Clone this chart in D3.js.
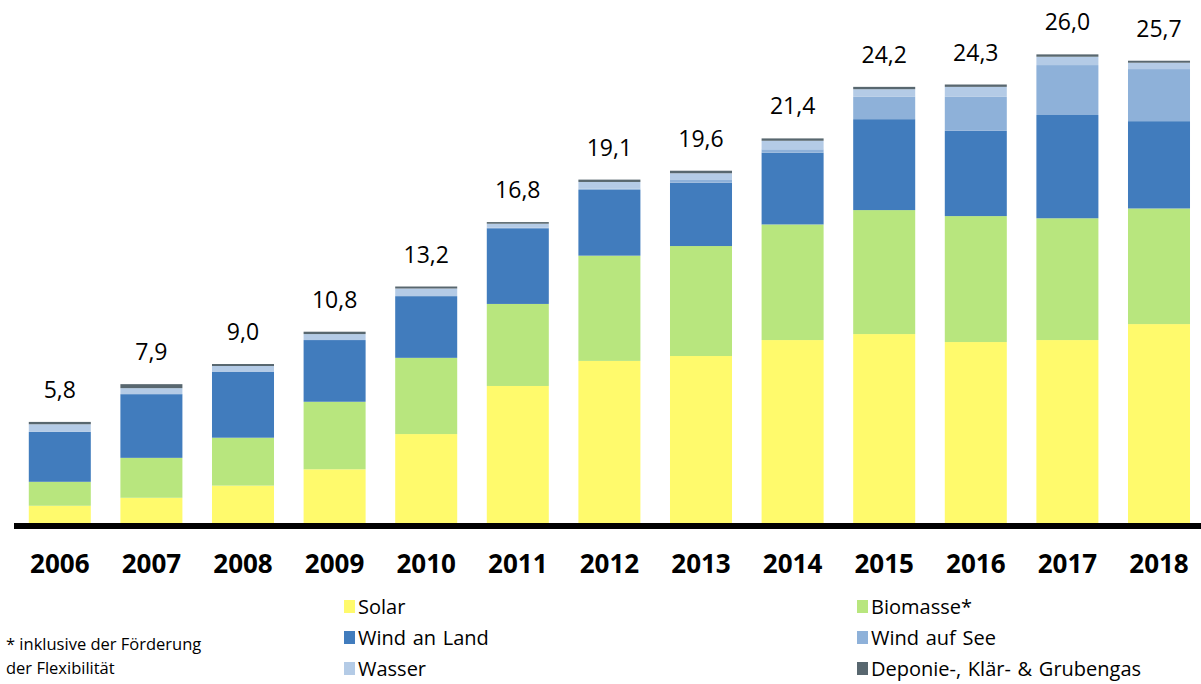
<!DOCTYPE html>
<html>
<head>
<meta charset="utf-8">
<script src="https://cdn.jsdelivr.net/npm/d3@7"></script>
<style>
  html, body { margin: 0; padding: 0; background: #fff; }
  svg { display: block; font-family: "Open Sans", "Noto Sans", sans-serif; }
</style>
</head>
<body>
<div id="chart"></div>
<script>
// data (Mrd. Euro)
const years = ['2006', '2007', '2008', '2009', '2010', '2011', '2012', '2013', '2014', '2015', '2016', '2017', '2018'];
const solar    = [1.17, 1.61, 2.28, 3.18, 5.12, 7.77, 9.15, 9.42, 10.30, 10.63, 10.19, 10.30, 11.18];
const biomasse = [1.32, 2.20, 2.64, 3.72, 4.20, 4.52, 5.80, 6.06, 6.37, 6.83, 6.94, 6.71, 6.37];
const windLand = [2.75, 3.51, 3.62, 3.40, 3.40, 4.17, 3.62, 3.49, 3.95, 5.01, 4.70, 5.69, 4.81];
const windSee  = [0, 0, 0, 0, 0, 0.03, 0.08, 0.15, 0.19, 1.23, 1.87, 2.75, 2.87];
const wasser   = [0.42, 0.33, 0.33, 0.33, 0.42, 0.22, 0.36, 0.37, 0.47, 0.42, 0.55, 0.46, 0.35];
const deponie  = [0.13, 0.22, 0.11, 0.13, 0.11, 0.09, 0.13, 0.14, 0.13, 0.13, 0.13, 0.13, 0.11];
const totalLabels = ['5,8', '7,9', '9,0', '10,8', '13,2', '16,8', '19,1', '19,6', '21,4', '24,2', '24,3', '26,0', '25,7'];

const seriesKeys   = ['solar', 'biomasse', 'windLand', 'windSee', 'wasser', 'deponie'];
const seriesNames  = ['Solar', 'Biomasse*', 'Wind an Land', 'Wind auf See', 'Wasser', 'Deponie-, Klär- & Grubengas'];
const seriesColors = ['#fffa6c', '#b8e67e', '#417cbd', '#8eb1d9', '#b4cbe6', '#58676f'];

const width = 1201, height = 684;

const table = years.map((year, i) => ({
  year,
  solar: solar[i],
  biomasse: biomasse[i],
  windLand: windLand[i],
  windSee: windSee[i],
  wasser: wasser[i],
  deponie: deponie[i],
  label: totalLabels[i]
}));

const stacked = d3.stack().keys(seriesKeys)(table);

const x = d3.scaleBand()
    .domain(years)
    .range([14, 1204.8])
    .paddingInner(0.323)
    .paddingOuter(0.1615);

const y = d3.scaleLinear()
    .domain([0, 26])
    .range([527, 527 - 26 * 18.15]);

const color = d3.scaleOrdinal().domain(seriesKeys).range(seriesColors);

const svg = d3.select('#chart')
    .append('svg')
    .attr('width', width)
    .attr('height', height);

// stacked bars
svg.append('g')
  .selectAll('g')
  .data(stacked)
  .join('g')
    .attr('fill', d => color(d.key))
  .selectAll('rect')
  .data(d => d)
  .join('rect')
    .attr('x', d => x(d.data.year))
    .attr('width', x.bandwidth())
    .attr('y', d => y(d[1]))
    .attr('height', d => Math.max(0, y(d[0]) - y(d[1])));

// totals above bars
const topLayer = stacked[stacked.length - 1];
svg.append('g')
  .selectAll('text')
  .data(topLayer)
  .join('text')
    .attr('x', d => x(d.data.year) + x.bandwidth() / 2)
    .attr('y', d => y(d[1]) - 24)
    .attr('text-anchor', 'middle')
    .attr('font-size', 23)
    .attr('fill', '#000')
    .text(d => d.data.label);

// base line
svg.append('line')
    .attr('x1', 14)
    .attr('x2', width)
    .attr('y1', 526)
    .attr('y2', 526)
    .attr('stroke', '#000')
    .attr('stroke-width', 6);

// x axis labels
const xAxis = svg.append('g')
    .attr('transform', 'translate(0,548)')
    .call(d3.axisBottom(x).tickSize(0).tickPadding(0));
xAxis.select('.domain').remove();
xAxis.selectAll('text')
    .attr('dy', 0)
    .attr('y', 25)
    .attr('font-family', '"Open Sans", sans-serif')
    .attr('font-size', 26)
    .attr('font-weight', 'bold')
    .attr('fill', '#000');

// legend
const legendCols = [358, 871];
const legendRows = [614, 645, 676];
const legendOrder = [0, 1, 2, 3, 4, 5];
const legend = svg.append('g')
  .selectAll('g')
  .data(legendOrder)
  .join('g')
    .attr('transform', i => `translate(${legendCols[i % 2]},${legendRows[Math.floor(i / 2)]})`);

legend.append('rect')
    .attr('x', -14)
    .attr('y', -14)
    .attr('width', 11)
    .attr('height', 13)
    .attr('fill', i => seriesColors[i]);

legend.append('text')
    .attr('font-size', 20)
    .attr('word-spacing', 1.5)
    .attr('fill', '#000')
    .text(i => seriesNames[i]);

// footnote
const foot = svg.append('text')
    .attr('font-size', 16.5)
    .attr('fill', '#000');
foot.append('tspan').attr('x', 6).attr('y', 650).text('* inklusive der Förderung');
foot.append('tspan').attr('x', 6).attr('y', 674).text('der Flexibilität');
</script>
</body>
</html>
